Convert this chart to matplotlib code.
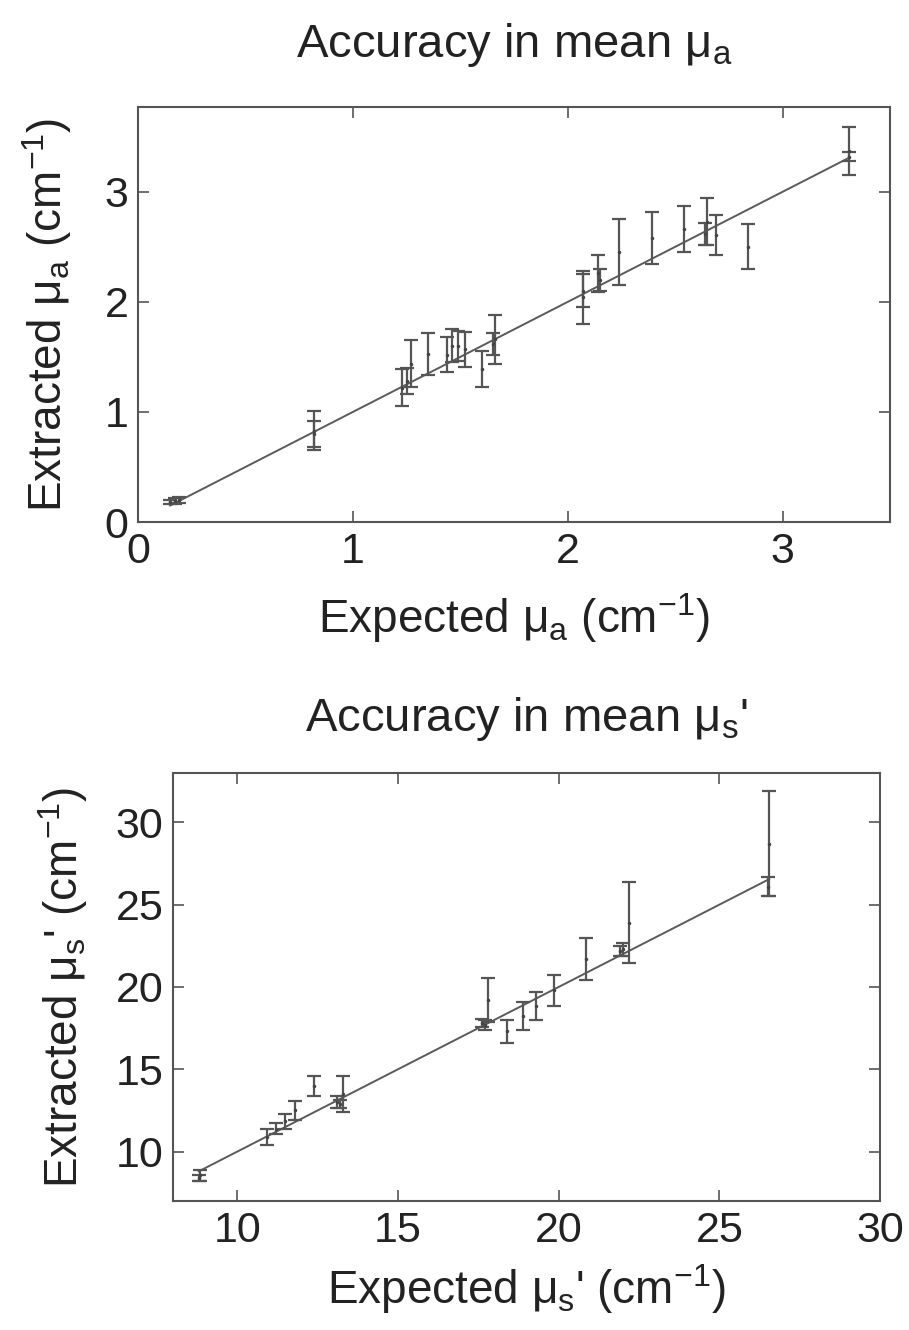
import numpy as np
import matplotlib
matplotlib.use("Agg")
import matplotlib.pyplot as plt

plt.rcParams['font.family'] = ['Liberation Sans', 'DejaVu Sans']
plt.rcParams['mathtext.fontset'] = 'custom'
plt.rcParams['mathtext.rm'] = 'Liberation Sans'
plt.rcParams['mathtext.it'] = 'Liberation Sans:italic'

# absorption (mu_a): expected, extracted mean, std
mua_expected = [0.15, 0.17, 0.19, 0.82, 0.82, 1.23, 1.25, 1.27, 1.35, 1.44, 1.46, 1.49, 1.52,
                1.60, 1.65, 1.66, 2.07, 2.07, 2.14, 2.15, 2.24, 2.39, 2.54, 2.64, 2.65,
                2.69, 2.84, 3.31, 3.31]
mua_extracted = [0.18, 0.19, 0.20, 0.83, 0.80, 1.22, 1.28, 1.44, 1.53, 1.52, 1.60, 1.60, 1.57,
                 1.39, 1.62, 1.66, 2.04, 2.10, 2.26, 2.20, 2.45, 2.58, 2.66, 2.62, 2.73,
                 2.61, 2.50, 3.37, 3.32]
mua_err = [0.02, 0.03, 0.03, 0.18, 0.12, 0.17, 0.12, 0.21, 0.19, 0.16, 0.15, 0.14, 0.16,
           0.16, 0.10, 0.22, 0.24, 0.15, 0.17, 0.10, 0.30, 0.24, 0.21, 0.10, 0.21,
           0.18, 0.205, 0.22, 0.04]

# reduced scattering (mu_s'): expected, extracted mean, std
mus_expected = [8.8, 8.84, 10.93, 11.2, 11.5, 11.8, 12.4, 13.1, 13.2, 13.3, 17.6, 17.7, 17.8,
                18.4, 18.9, 19.3, 19.85, 20.85, 21.9, 22.0, 22.2, 26.5, 26.55]
mus_extracted = [8.4, 8.55, 10.9, 11.4, 11.85, 12.5, 14.0, 13.0, 12.9, 13.5, 17.8, 17.7, 19.2,
                 17.3, 18.25, 18.85, 19.8, 21.7, 22.2, 22.3, 23.9, 26.1, 28.7]
mus_err = [0.2, 0.35, 0.5, 0.35, 0.45, 0.6, 0.6, 0.35, 0.25, 1.1, 0.25, 0.3, 1.35,
           0.7, 0.85, 0.85, 0.95, 1.3, 0.3, 0.4, 2.45, 0.6, 3.2]

fig = plt.figure(figsize=(9.09, 13.30), dpi=100)
txt = '#222222'

def style_axes(ax):
    for s in ax.spines.values():
        s.set_color('#555555')
        s.set_linewidth(1.5)
    ax.tick_params(direction='in', top=True, right=True, length=8, width=1.2,
                   color='#555555', labelsize=31, pad=7, labelcolor=txt)

def draw(ax, xe, ye, err):
    order = np.argsort(xe)
    xs = np.array(xe)[order]
    ax.plot(xs, xs, color='#5a5a5a', lw=1.4, zorder=1)
    ax.errorbar(xe, ye, yerr=err, fmt='.', ms=3, color='#444444', ecolor='#555555',
                elinewidth=1.6, capsize=5, capthick=1.6, zorder=2)

ax1 = fig.add_axes([0.1518, 0.6075, 0.8273, 0.3120])
draw(ax1, mua_expected, mua_extracted, mua_err)
ax1.set_xlim(0, 3.5)
ax1.set_ylim(0, 3.77)
ax1.set_xticks([0, 1, 2, 3])
ax1.set_yticks([0, 1, 2, 3])
style_axes(ax1)
ax1.set_title(r"Accuracy in mean μ$_\mathregular{a}$", fontsize=34, pad=36, color=txt)
ax1.set_xlabel(r"Expected μ$_\mathregular{a}$ (cm$^\mathregular{-1}$)", fontsize=33, labelpad=14, color=txt)
ax1.set_ylabel(r"Extracted μ$_\mathregular{a}$ (cm$^\mathregular{-1}$)", fontsize=33, labelpad=22, color=txt)

ax2 = fig.add_axes([0.1903, 0.0970, 0.7778, 0.3218])
draw(ax2, mus_expected, mus_extracted, mus_err)
ax2.set_xlim(8, 30)
ax2.set_ylim(7, 33)
ax2.set_xticks([10, 15, 20, 25, 30])
ax2.set_yticks([10, 15, 20, 25, 30])
style_axes(ax2)
ax2.set_title(r"Accuracy in mean μ$_\mathregular{s}$'", fontsize=34, pad=30, color=txt)
ax2.set_xlabel(r"Expected μ$_\mathregular{s}$' (cm$^\mathregular{-1}$)", fontsize=33, labelpad=8, color=txt)
ax2.set_ylabel(r"Extracted μ$_\mathregular{s}$' (cm$^\mathregular{-1}$)", fontsize=33, labelpad=18, color=txt)

fig.savefig("out.png", dpi=100)
